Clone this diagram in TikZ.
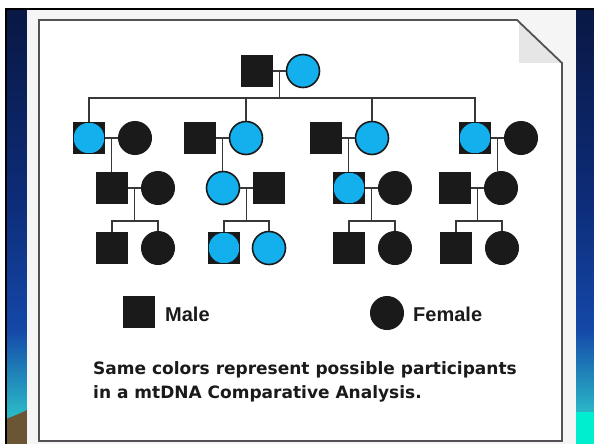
\documentclass[tikz,border=0pt]{standalone}
\usepackage{fontspec}
\setmainfont{DejaVu Sans}
\newfontfamily\legfont{Liberation Sans}
\usetikzlibrary{calc}
\definecolor{cblue}{HTML}{14B0EE}
\definecolor{ink}{HTML}{1A1A1A}
\definecolor{lin}{HTML}{383838}
\definecolor{bgA}{HTML}{091844}
\definecolor{bgB}{HTML}{0D2C78}
\definecolor{bgC}{HTML}{1448A8}
\definecolor{bgD}{HTML}{2AB8C8}
\definecolor{brn}{HTML}{6A5535}
\definecolor{aqua}{HTML}{00EED0}
\definecolor{panel}{HTML}{F5F5F5}
\definecolor{foldg}{HTML}{E6E6E6}
\definecolor{bord}{HTML}{555055}
\begin{document}
\begin{tikzpicture}[x=1pt,y=-1pt,
  male/.style={rectangle, draw=ink, fill=ink, minimum size=31pt, inner sep=0pt, line width=0.8pt},
  fem/.style={circle, draw=ink, fill=ink, minimum size=33pt, inner sep=0pt, line width=1pt},
  bfem/.style={fem, fill=cblue, line width=1.6pt},
  bmale/.style={male, path picture={\fill[cblue] (path picture bounding box.center) circle (15.3pt);}},
  conn/.style={draw=lin, line width=1.5pt},
  txt/.style={anchor=west, inner sep=0pt, text=ink, font=\bfseries\fontsize{17}{20}\selectfont},
  leg/.style={anchor=west, inner sep=0pt, text=ink, font=\legfont\bfseries\fontsize{20}{24}\selectfont}]
\useasboundingbox (0,0) rectangle (594,444);
% slide background
\fill[white] (0,0) rectangle (594,444);
\shade[top color=bgA, bottom color=bgB] (6,9) rectangle (594,200);
\shade[top color=bgB, bottom color=bgC] (6,199.5) rectangle (594,330);
\shade[top color=bgC, bottom color=bgD] (6,329.5) rectangle (594,413);
\fill[bgD] (6,412.5) rectangle (594,444);
\fill[brn] (6,444) -- (6,419) .. controls (14,416) and (21,413) .. (27,410) -- (27,444) -- cycle;
\fill[aqua] (576,412) rectangle (594,444);
\draw[black, line width=1.5pt] (6,444) -- (6,9) -- (594,9);
% paper
\fill[panel] (27,10) rectangle (576,444);
\fill[white] (39,20) -- (517,20) -- (562,63) -- (562,441) -- (39,441) -- cycle;
\fill[foldg] (519,21.5) -- (560.5,63) -- (519,63) -- cycle;
\draw[bord, line width=1.8pt] (39,20) -- (517,20) -- (562,63) -- (562,441) -- (39,441) -- cycle;
% generation 1
\node[male] (g1a) at (257,71) {};
\node[bfem] (g1b) at (303,71) {};
% generation 2
\node[bmale] (f1a) at (89,138) {};
\node[fem]   (f1b) at (135,138) {};
\node[male]  (f2a) at (200,138) {};
\node[bfem]  (f2b) at (246,138) {};
\node[male]  (f3a) at (326,138) {};
\node[bfem]  (f3b) at (372,138) {};
\node[bmale] (f4a) at (475,138) {};
\node[fem]   (f4b) at (521,138) {};
% generation 3
\node[male]  (h1a) at (112,188) {};
\node[fem]   (h1b) at (158,188) {};
\node[bfem]  (h2a) at (223,188) {};
\node[male]  (h2b) at (269,188) {};
\node[bmale] (h3a) at (349,188) {};
\node[fem]   (h3b) at (395,188) {};
\node[male]  (h4a) at (455,188) {};
\node[fem]   (h4b) at (501,188) {};
% generation 4
\node[male]  (k1a) at (112,248) {};
\node[fem]   (k1b) at (158,248) {};
\node[bmale] (k2a) at (224,248) {};
\node[bfem]  (k2b) at (269,248) {};
\node[male]  (k3a) at (349,248) {};
\node[fem]   (k3b) at (395,248) {};
\node[male]  (k4a) at (456,248) {};
\node[fem]   (k4b) at (502,248) {};
% helper coordinates
\coordinate (s1) at (0,98);
\coordinate (s3) at (0,221);
% couple lines
\foreach \p in {g1,f1,f2,f3,f4,h1,h2,h3,h4}{
  \draw[conn] (\p a.east) -- (\p b.west);
  \coordinate (m\p) at ($(\p a.east)!0.5!(\p b.west)$);
}
% gen 1 -> gen 2
\draw[conn] (mg1) -- (mg1 |- s1);
\draw[conn] (f1a.north) -- (f1a.north |- s1) -- (f4a.north |- s1) -- (f4a.north);
\draw[conn] (f2b.north) -- (f2b.north |- s1);
\draw[conn] (f3b.north) -- (f3b.north |- s1);
% gen 2 -> gen 3
\draw[conn] (mf1) -- (mf1 |- h1a.north);
\draw[conn] (mf2) -- (mf2 |- h2a.north);
\draw[conn] (mf3) -- (mf3 |- h3a.north);
\draw[conn] (mf4) -- (mf4 |- h4b.north);
% gen 3 -> gen 4
\foreach \i in {1,2,3,4}{
  \draw[conn] (mh\i) -- (mh\i |- s3);
  \draw[conn] (k\i a.north) -- (k\i a.north |- s3) -- (k\i b.north |- s3) -- (k\i b.north);
}
% legend
\node[male] (lm) at (139,312) {};
\node[leg] (lmt) at (165,314) {Male};
\node[fem] (lf) at (387,313) {};
\node[leg] (lft) at (413,314) {Female};
% caption
\node[txt] (t1) at (93,370) {Same colors represent possible participants};
\node[txt] (t2) at (93,394) {in a mtDNA Comparative Analysis.};
\end{tikzpicture}
\end{document}
